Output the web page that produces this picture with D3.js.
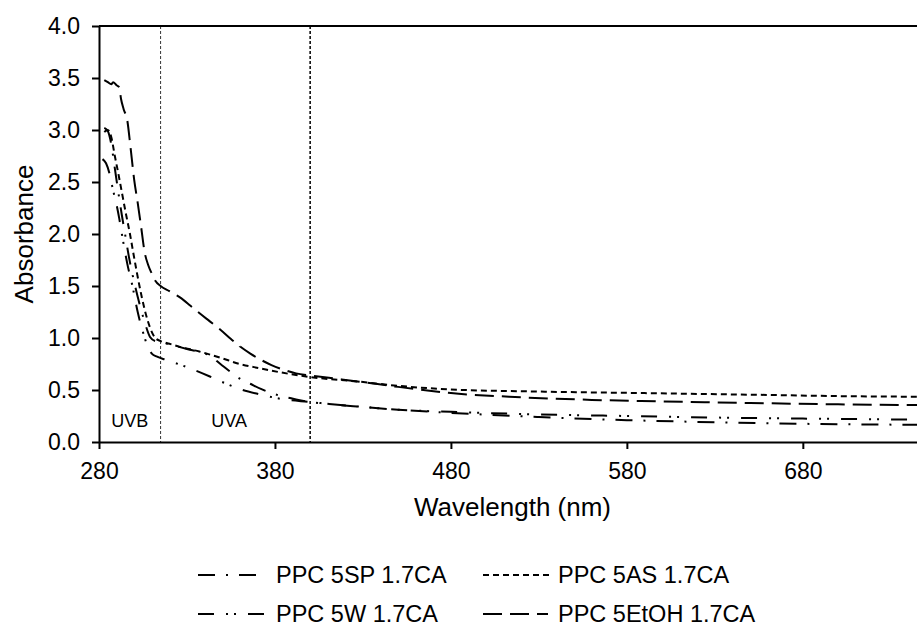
<!DOCTYPE html>
<head>
<meta charset="utf-8">
<style>
  body { margin: 0; background-color: white; }
  svg { background-color: white; font-family: 'Liberation Sans', Arial, sans-serif; }
  .axis text { fill: #000; font-size: 23px; }
  .axis line, .axis path { stroke: #000; stroke-width: 2; }
  .axisTitle { fill: #000; font-size: 26px; }
  .band { fill: #000; font-size: 18px; }
  .legend text { fill: #000; font-size: 23.5px; }
</style>
</head>
<body>
<script src="https://cdnjs.cloudflare.com/ajax/libs/d3/7.8.5/d3.min.js"></script>
<script>

// DATA  [wavelength nm, absorbance]
const spData = [[283, 3.02], [285, 2.99], [287, 2.86], [289, 2.63], [291, 2.40], [293, 2.18], [294.8, 2.00],
  [297, 1.78], [300.5, 1.50], [303, 1.33], [306, 1.15], [309, 1.01], [312, 0.97], [315, 0.96], [322, 0.93],
  [330, 0.895], [337, 0.865], [343, 0.83], [349, 0.75], [355, 0.67], [360, 0.61], [366, 0.56], [372, 0.51],
  [378, 0.47], [384, 0.44], [392, 0.41], [400, 0.385], [414, 0.36], [428, 0.34], [450, 0.31], [480, 0.28],
  [530, 0.24], [580, 0.21], [630, 0.19], [680, 0.175], [750, 0.165]];

const asData = [[283, 2.98], [285, 3.00], [287, 2.93], [289, 2.75], [291, 2.58], [293, 2.40], [295, 2.22],
  [297.6, 2.00], [300, 1.77], [303, 1.50], [306, 1.27], [309, 1.10], [312, 1.00], [315, 0.97], [320, 0.945],
  [326, 0.915], [337, 0.87], [349, 0.81], [360, 0.75], [371, 0.71], [383, 0.67], [400, 0.625], [428, 0.58],
  [450, 0.54], [480, 0.505], [530, 0.485], [590, 0.47], [650, 0.455], [707, 0.44], [750, 0.435]];

const wData = [[282, 2.72], [284, 2.68], [286, 2.58], [288, 2.42], [290, 2.28], [291.5, 2.15], [293, 2.00],
  [296, 1.72], [299, 1.50], [302, 1.25], [306, 1.00], [308, 0.90], [310, 0.85], [313, 0.82], [318, 0.79],
  [325, 0.75], [333, 0.70], [343, 0.63], [351, 0.57], [360, 0.51], [371, 0.46], [385, 0.41], [400, 0.385],
  [414, 0.36], [428, 0.34], [450, 0.31], [480, 0.29], [530, 0.265], [580, 0.25], [630, 0.235], [680, 0.225],
  [750, 0.215]];

const etohData = [[283, 3.48], [285, 3.46], [287, 3.44], [288, 3.46], [290, 3.43], [291.5, 3.41], [292.5, 3.30],
  [294, 3.20], [296, 3.10], [298, 2.82], [300, 2.52], [302, 2.30], [304, 2.06], [306, 1.82], [308, 1.70],
  [310, 1.62], [312, 1.55], [315, 1.50], [320, 1.45], [326, 1.39], [332, 1.31], [337, 1.24], [343, 1.16],
  [349, 1.08], [355, 0.99], [360, 0.92], [366, 0.85], [372, 0.79], [378, 0.74], [384, 0.70], [392, 0.66],
  [400, 0.64], [414, 0.61], [428, 0.58], [450, 0.53], [480, 0.47], [520, 0.43], [560, 0.405], [600, 0.39],
  [650, 0.375], [700, 0.362], [750, 0.355]];

const seriesNames = ['PPC 5SP 1.7CA', 'PPC 5AS 1.7CA', 'PPC 5W 1.7CA', 'PPC 5EtOH 1.7CA'];
const xTicks = [280, 380, 480, 580, 680];
const yTicks = [0, 0.5, 1, 1.5, 2, 2.5, 3, 3.5, 4];
const bandEdges = [315, 400];   // UVB | UVA | visible

// DIMENSIONS
const width = 917, height = 628;
const margin = {top: 26, left: 99, plotRight: 926, plotBottom: 442};

const svg = d3.select('body').append('svg')
  .attr('width', width)
  .attr('height', height);

// SCALES
const xScale = d3.scaleLinear([280, 750], [margin.left, margin.plotRight]);
const yScale = d3.scaleLinear([0, 4], [margin.plotBottom, margin.top]);

// BAND LINES
svg.append('line')
  .attr('x1', xScale(bandEdges[0])).attr('x2', xScale(bandEdges[0]))
  .attr('y1', yScale(4)).attr('y2', yScale(0))
  .attr('stroke', '#333').attr('stroke-width', 1).attr('stroke-dasharray', '3,2');
svg.append('line')
  .attr('x1', xScale(bandEdges[1])).attr('x2', xScale(bandEdges[1]))
  .attr('y1', yScale(4)).attr('y2', yScale(0))
  .attr('stroke', '#000').attr('stroke-width', 1.5).attr('stroke-dasharray', '3,2');

svg.append('text').attr('class', 'band')
  .attr('x', xScale(297.5)).attr('y', yScale(0) - 15)
  .attr('text-anchor', 'middle').text('UVB');
svg.append('text').attr('class', 'band')
  .attr('x', xScale(354)).attr('y', yScale(0) - 15)
  .attr('text-anchor', 'middle').text('UVA');

// LINES
const dashes = ['17,11,2,11', '6,4', '16,12,2,6,2,12', '19,8'];
const legendLen = [62, 70, 66, 65];
const allData = [spData, asData, wData, etohData];

const line = d3.line()
  .curve(d3.curveMonotoneX)
  .x(d => xScale(d[0]))
  .y(d => yScale(d[1]));

svg.append('g')
  .selectAll('path')
  .data(allData)
  .join('path')
  .attr('d', line)
  .attr('fill', 'none')
  .attr('stroke', '#000')
  .attr('stroke-width', 2)
  .attr('stroke-dasharray', (d, i) => dashes[i]);

// AXES
const xAxis = d3.axisBottom(xScale).tickValues(xTicks).tickSize(7).tickSizeOuter(0).tickPadding(14);
const yAxis = d3.axisLeft(yScale).tickValues(yTicks).tickSize(7).tickSizeOuter(0).tickPadding(12)
  .tickFormat(d3.format('.1f'));

svg.append('g')
  .attr('class', 'axis')
  .attr('transform', `translate(0,${margin.plotBottom})`)
  .call(xAxis);

svg.append('g')
  .attr('class', 'axis')
  .attr('transform', `translate(${margin.left},0)`)
  .call(yAxis);

// top frame
svg.append('line')
  .attr('x1', margin.left).attr('x2', margin.plotRight)
  .attr('y1', margin.top).attr('y2', margin.top)
  .attr('stroke', '#000').attr('stroke-width', 2);

// AXIS TITLES
svg.append('text').attr('class', 'axisTitle')
  .attr('x', (margin.left + margin.plotRight) / 2)
  .attr('y', 516)
  .attr('text-anchor', 'middle')
  .text('Wavelength (nm)');

svg.append('text').attr('class', 'axisTitle')
  .attr('transform', `translate(33,${(margin.top + margin.plotBottom) / 2}) rotate(-90)`)
  .attr('text-anchor', 'middle')
  .text('Absorbance');

// LEGEND
const legendX = [198, 483], legendY = [583, 622];
const legend = svg.append('g').attr('class', 'legend');

seriesNames.forEach((name, i) => {
  const col = i % 2, row = Math.floor(i / 2);
  const gx = legendX[col], gy = legendY[row];
  legend.append('line')
    .attr('x1', gx).attr('x2', gx + legendLen[i])
    .attr('y1', gy - 8).attr('y2', gy - 8)
    .attr('stroke', '#000').attr('stroke-width', 2)
    .attr('stroke-dasharray', dashes[i]);
  legend.append('text')
    .attr('x', gx + (col == 0 ? 78 : 75))
    .attr('y', gy)
    .text(name);
});

</script>
</body>
